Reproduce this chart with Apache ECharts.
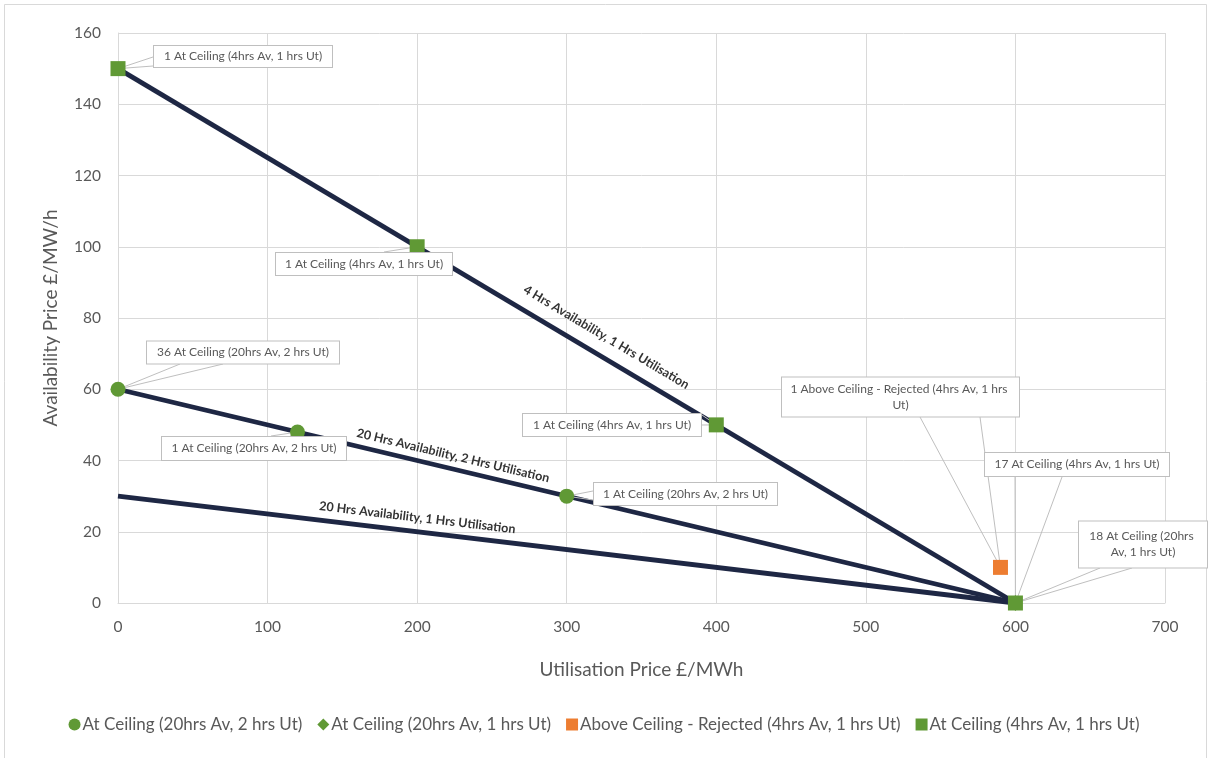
<!DOCTYPE html>
<html>
<head>
<meta charset="utf-8">
<script src="https://cdn.jsdelivr.net/npm/echarts@6/dist/echarts.min.js"></script>
<style>
  html, body { margin: 0; padding: 0; background: #ffffff; }
  #chart { width: 1208px; height: 758px; }
</style>
</head>
<body>
<div id="chart"></div>
<script>
// ---- data -----------------------------------------------------------
// Bid-curve lines: availability price (y) against utilisation price (x)
const lineNames = [
  '4 Hrs Availability, 1 Hrs Utilisation',
  '20 Hrs Availability, 2 Hrs Utilisation',
  '20 Hrs Availability, 1 Hrs Utilisation'
];
const lineStart = [[0, 150], [0, 60], [0, 30]];
const lineEnd   = [[600, 0], [600, 0], [600, 0]];

// Scatter groups: names, utilisation price, availability price, bid counts
const groupNames = [
  'At Ceiling (20hrs Av, 2 hrs Ut)',
  'At Ceiling (20hrs Av, 1 hrs Ut)',
  'Above Ceiling - Rejected (4hrs Av, 1 hrs Ut)',
  'At Ceiling (4hrs Av, 1 hrs Ut)'
];
const util20h2  = [0, 120, 300];
const avail20h2 = [60, 48, 30];
const count20h2 = [36, 1, 1];

const util20h1  = [600];
const avail20h1 = [0];
const count20h1 = [18];

const utilRejected  = [590];
const availRejected = [10];
const countRejected = [1];

const util4h1  = [0, 200, 400, 600];
const avail4h1 = [150, 100, 50, 0];
const count4h1 = [1, 1, 1, 17];

const xTicks = [0, 100, 200, 300, 400, 500, 600, 700];
const yTicks = [0, 20, 40, 60, 80, 100, 120, 140, 160];

// ---- layout (pixel boxes for callouts, anchors for line captions) -----
// box: centre x/y, width, height, text lines; base: two points on the box edge
const calloutLayout = [
  [ // 20hrs Av, 2 hrs Ut
    { cx: 243, cy: 352.5, w: 194, h: 24, lines: 1, base: [[180, 364], [223, 364]] },
    { cx: 254, cy: 448.5, w: 186, h: 25, lines: 1, base: [[271, 436], [290, 436]] },
    { cx: 685.5, cy: 494, w: 185, h: 24, lines: 1, base: [[593, 491], [593, 500]] }
  ],
  [ // 20hrs Av, 1 hrs Ut
    { cx: 1143, cy: 544.5, w: 130, h: 48, lines: 2, base: [[1100, 568], [1132, 568]] }
  ],
  [ // rejected
    { cx: 900.5, cy: 397, w: 239, h: 41, lines: 2, base: [[920, 417], [980, 417]] }
  ],
  [ // 4hrs Av, 1 hrs Ut
    { cx: 243, cy: 56.5, w: 180, h: 23, lines: 1, base: [[153, 57], [153, 66]] },
    { cx: 364, cy: 264, w: 178, h: 24, lines: 1, base: [[384, 252], [410, 252]] },
    { cx: 612, cy: 425, w: 180, h: 24, lines: 1, base: [[702, 415], [702, 425]] },
    { cx: 1077, cy: 464.5, w: 186, h: 25, lines: 1, base: [[1015, 477], [1062, 477]] }
  ]
];
const lineCaptionAt = [320, 222, 199];   // x position (data units) of each caption
const lineCaptionGap = [19, 13, 14];      // distance above the line, px

const FONT = 'Lato, "Open Sans", sans-serif';
const GREEN = '#609935';
const ORANGE = '#ED7D31';
const NAVY = '#1E2744';
const GRID = '#d9d9d9';
const TEXT = '#595959';
const LINE_H = 16;

const chart = echarts.init(document.getElementById('chart'), null, { renderer: 'canvas' });

function pts(xs, ys, counts) {
  return xs.map((x, i) => ({ value: [x, ys[i]], count: counts[i] }));
}

// each data item carries its own box size for the callout label
function withBoxes(idx, data) {
  return data.map((d, i) => {
    const b = calloutLayout[idx][i];
    const padV = (b.h - 2 - b.lines * LINE_H) / 2;
    return Object.assign({}, d, {
      label: { width: b.w - 14, padding: [padV, 6, padV, 6] }
    });
  });
}

function scatterSeries(idx, symbol, size, color, data) {
  const layout = calloutLayout[idx];
  const name = groupNames[idx];
  return {
    type: 'scatter',
    name: name,
    symbol: symbol,
    symbolSize: size,
    itemStyle: { color: color, opacity: 1 },
    data: withBoxes(idx, data),
    z: 4,
    label: {
      show: true,
      formatter: p => p.data.count + ' ' + name,
      fontFamily: FONT,
      fontSize: 12,
      color: TEXT,
      backgroundColor: '#ffffff',
      borderColor: '#bfbfbf',
      borderWidth: 1,
      lineHeight: LINE_H,
      overflow: 'break',
      align: 'center'
    },
    labelLayout: function (p) {
      const b = layout[p.dataIndex];
      return { x: b.cx, y: b.cy, align: 'center', verticalAlign: 'middle' };
    }
  };
}

const lineSeries = lineNames.map((n, i) => ({
  type: 'line',
  name: n,
  data: [lineStart[i], lineEnd[i]],
  symbol: 'none',
  lineStyle: { color: NAVY, width: 4.8 },
  z: 2,
  silent: true
}));

const option = {
  animation: false,
  backgroundColor: '#ffffff',
  textStyle: { fontFamily: FONT },
  grid: { left: 118, right: 43, top: 33, bottom: 155 },
  xAxis: {
    type: 'value',
    min: xTicks[0], max: xTicks[xTicks.length - 1], interval: 100,
    name: 'Utilisation Price £/MWh',
    nameLocation: 'middle', nameGap: 57,
    nameTextStyle: { fontFamily: FONT, fontSize: 19, color: TEXT },
    axisLine: { show: true, lineStyle: { color: GRID, width: 1 } },
    axisTick: { show: false },
    axisLabel: { fontFamily: FONT, fontSize: 15.5, color: TEXT, margin: 16 },
    splitLine: { show: true, lineStyle: { color: GRID, width: 1 } }
  },
  yAxis: {
    type: 'value',
    min: yTicks[0], max: yTicks[yTicks.length - 1], interval: 20,
    name: 'Availability Price £/MW/h',
    nameLocation: 'middle', nameGap: 58,
    nameTextStyle: { fontFamily: FONT, fontSize: 19, color: TEXT },
    axisLine: { show: true, lineStyle: { color: GRID, width: 1 } },
    axisTick: { show: false },
    axisLabel: { fontFamily: FONT, fontSize: 15.5, color: TEXT, margin: 17 },
    splitLine: { show: true, lineStyle: { color: GRID, width: 1 } }
  },
  legend: {
    bottom: 20,
    left: 'center',
    itemGap: 15,
    itemWidth: 12,
    itemHeight: 12,
    textStyle: { fontFamily: FONT, fontSize: 17, color: TEXT, padding: [0, 0, 0, -3] },
    data: [
      { name: groupNames[0], icon: 'circle' },
      { name: groupNames[1], icon: 'diamond' },
      { name: groupNames[2], icon: 'rect' },
      { name: groupNames[3], icon: 'rect' }
    ]
  },
  series: lineSeries.concat([
    scatterSeries(0, 'circle', 15, GREEN, pts(util20h2, avail20h2, count20h2)),
    scatterSeries(1, 'diamond', [12, 16], GREEN, pts(util20h1, avail20h1, count20h1)),
    scatterSeries(2, 'rect', 15, ORANGE, pts(utilRejected, availRejected, countRejected)),
    scatterSeries(3, 'rect', 15, GREEN, pts(util4h1, avail4h1, count4h1))
  ])
};

chart.setOption(option);

// ---- overlay: callout pointers, line captions, outer frame -----------
function toPx(v) {
  return chart.convertToPixel({ xAxisIndex: 0, yAxisIndex: 0 }, v);
}

const graphics = [];

// frame around the whole chart area
graphics.push({
  type: 'rect', silent: true, z: 0,
  shape: { x: 4.5, y: 4.5, width: 1202, height: 800 },
  style: { fill: null, stroke: GRID, lineWidth: 1 }
});

// pointers from each callout box to its marker
const groupXs = [util20h2, util20h1, utilRejected, util4h1];
const groupYs = [avail20h2, avail20h1, availRejected, avail4h1];
calloutLayout.forEach((boxes, g) => {
  boxes.forEach((b, i) => {
    const tip = toPx([groupXs[g][i], groupYs[g][i]]);
    graphics.push({
      type: 'polyline', silent: true, z: 3,
      shape: { points: [b.base[0], tip, b.base[1]] },
      style: { stroke: '#bfbfbf', lineWidth: 1, fill: null }
    });
  });
});

// captions written along each line
lineNames.forEach((n, i) => {
  const p1 = toPx(lineStart[i]);
  const p2 = toPx(lineEnd[i]);
  const dx = p2[0] - p1[0], dy = p2[1] - p1[1];
  const len = Math.hypot(dx, dy);
  const ux = dx / len, uy = dy / len;
  const u = lineCaptionAt[i];
  const t = (u - lineStart[i][0]) / (lineEnd[i][0] - lineStart[i][0]);
  const px = p1[0] + dx * t, py = p1[1] + dy * t;
  const gap = lineCaptionGap[i];
  graphics.push({
    type: 'text', silent: true, z: 5,
    x: px + uy * gap, y: py - ux * gap,
    rotation: Math.atan2(-dy, dx),
    style: {
      text: n, x: 0, y: 0, align: 'center', verticalAlign: 'middle',
      fontFamily: FONT, fontWeight: 'bold', fontSize: 12.5, fill: '#333333'
    }
  });
});

chart.setOption({ graphic: graphics });
</script>
</body>
</html>
